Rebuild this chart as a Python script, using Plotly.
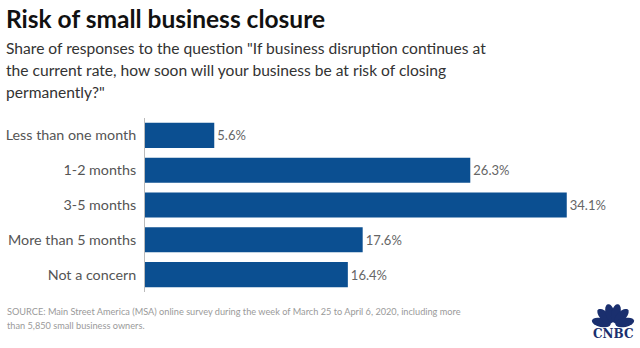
import math
import plotly.graph_objects as go

# Survey responses
categories = ["Less than one month", "1-2 months", "3-5 months", "More than 5 months", "Not a concern"]
shares = [5.6, 26.3, 34.1, 17.6, 16.4]
value_labels = ["5.6%", "26.3%", "34.1%", "17.6%", "16.4%"]

title_text = "Risk of small business closure"
subtitle_lines = [
    'Share of responses to the question "If business disruption continues at',
    "the current rate, how soon will your business be at risk of closing",
    'permanently?"',
]
source_lines = [
    "SOURCE: Main Street America (MSA) online survey during the week of March 25 to April 6, 2020, including more",
    "than 5,850 small business owners.",
]

W, H = 640, 348
ML, MR, MT, MB = 145, 25, 118, 56
PW, PH = W - ML - MR, H - MT - MB
BLUE = "#0b4f91"
LOGO = "#1a2f6e"
FONT = "Lato, Roboto, Arial, sans-serif"


def px_x(x):
    return (x - ML) / PW


def px_y(y):
    return (H - MB - y) / PH


fig = go.Figure(
    go.Bar(
        x=shares,
        y=categories,
        orientation="h",
        marker=dict(color=BLUE, line=dict(width=0)),
        text=value_labels,
        textposition="outside",
        textfont=dict(size=13, color="#666666", family=FONT),
        cliponaxis=False,
        hoverinfo="skip",
    )
)

annotations = [
    dict(text=f"<b>{title_text}</b>", x=px_x(4), y=px_y(18), xanchor="left", yanchor="middle",
         font=dict(size=24.5, color="#111111", family=FONT)),
]
for i, line in enumerate(subtitle_lines):
    annotations.append(dict(text=line, x=px_x(4), y=px_y(48 + 22 * i), xanchor="left", yanchor="middle",
                            font=dict(size=15.6, color="#333333", family=FONT)))
for i, line in enumerate(source_lines):
    annotations.append(dict(text=line, x=px_x(5), y=px_y(311 + 14 * i), xanchor="left", yanchor="middle",
                            font=dict(size=9.2, color="#9a9a9a", family=FONT)))
# CNBC wordmark
annotations.append(dict(text="<b>CNBC</b>", x=px_x(613), y=px_y(334), xanchor="center", yanchor="middle",
                        font=dict(size=12, color=LOGO, family="DejaVu Serif, serif")))
for a in annotations:
    a.update(xref="paper", yref="paper", showarrow=False)


def feather_path(bx, by, angle_deg, dist, length, width, n=24):
    """Rotated ellipse (in pixel space) converted to a paper-coordinate SVG path."""
    a = math.radians(angle_deg)
    ux, uy = math.cos(a), -math.sin(a)
    vx, vy = -uy, ux
    cx, cy = bx + ux * dist, by + uy * dist
    pts = []
    for k in range(n):
        t = 2 * math.pi * k / n
        px = cx + ux * (length / 2) * math.cos(t) + vx * (width / 2) * math.sin(t)
        py = cy + uy * (length / 2) * math.cos(t) + vy * (width / 2) * math.sin(t)
        pts.append(f"{px_x(px):.5f},{px_y(py):.5f}")
    return "M" + " L".join(pts) + " Z"


# Peacock of the logo: six feathers fanned above the wordmark
shapes = []
base_x, base_y = 613, 325
for ang in [168, 134, 104, 76, 46, 12]:
    shapes.append(dict(type="path", xref="paper", yref="paper",
                       path=feather_path(base_x, base_y, ang, 12, 19, 9),
                       fillcolor=LOGO, line=dict(width=0)))

fig.update_layout(
    width=W, height=H,
    margin=dict(l=ML, r=MR, t=MT, b=MB),
    paper_bgcolor="white", plot_bgcolor="white",
    bargap=0.28,
    showlegend=False,
    annotations=annotations,
    shapes=shapes,
    xaxis=dict(range=[0, 38], visible=False, fixedrange=True, automargin=False),
    yaxis=dict(autorange="reversed", showgrid=False, zeroline=False,
               showline=True, linecolor="#bbbbbb", linewidth=1,
               ticks="", ticklabelstandoff=5, automargin=False,
               tickfont=dict(size=14.3, color="#555555", family=FONT)),
    font=dict(family=FONT),
)

fig.write_html("out.html")
